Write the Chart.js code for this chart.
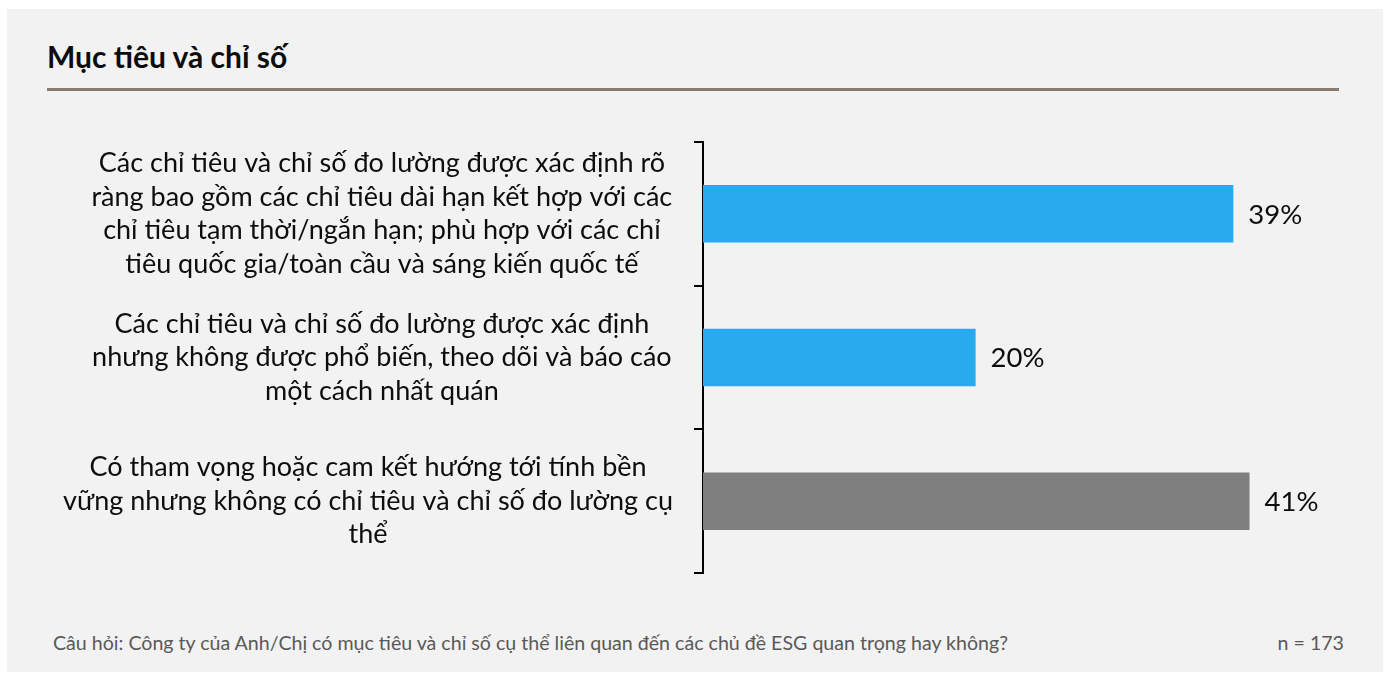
<!DOCTYPE html>
<html><head><meta charset="utf-8">
<script src="https://cdn.jsdelivr.net/npm/chart.js@4.4.1/dist/chart.umd.min.js"></script>
<style>
html,body{margin:0;padding:0;background:#fff;width:1385px;height:673px;overflow:hidden;font-family:Lato,"Noto Sans",sans-serif;}
#panel{position:absolute;left:7px;top:9px;width:1376px;height:663px;background:#f2f2f2;}
#title{position:absolute;left:47px;top:38px;font-weight:bold;font-size:30px;color:#0d0d0d;line-height:36px;white-space:nowrap;}
#rule{position:absolute;left:47px;top:88px;width:1292px;height:3px;background:#877b6f;}
#foot{position:absolute;left:53px;top:630px;font-size:19.6px;color:#595959;line-height:26px;white-space:nowrap;}
#n{position:absolute;right:41px;top:630px;font-size:19.6px;color:#595959;line-height:26px;white-space:nowrap;}
canvas{position:absolute;left:0;top:0;}
</style></head>
<body>
<div id="panel"></div>
<div id="title">Mục tiêu và chỉ số</div>
<div id="rule"></div>
<div id="foot">Câu hỏi: Công ty của Anh/Chị có mục tiêu và chỉ số cụ thể liên quan đến các chủ đề ESG quan trọng hay không?</div>
<div id="n">n = 173</div>
<canvas id="c" width="1385" height="673"></canvas>
<script>
const categories = [
  ["Các chỉ tiêu và chỉ số đo lường được xác định rõ","ràng bao gồm các chỉ tiêu dài hạn kết hợp với các","chỉ tiêu tạm thời/ngắn hạn; phù hợp với các chỉ","tiêu quốc gia/toàn cầu và sáng kiến quốc tế"],
  ["Các chỉ tiêu và chỉ số đo lường được xác định","nhưng không được phổ biến, theo dõi và báo cáo","một cách nhất quán"],
  ["Có tham vọng hoặc cam kết hướng tới tính bền","vững nhưng không có chỉ tiêu và chỉ số đo lường cụ","thể"]
];
const values = [39.3, 20.2, 40.5];
const valueLabels = ["39%", "20%", "41%"];

const BLUE = '#28aaee', GREY = '#7f7f7f';
const barColors = [BLUE, BLUE, GREY];
const LABEL_FONT = 27, VALUE_FONT = 27.5;
const labelShift = [15, 14, 0];

const mctx = document.createElement('canvas').getContext('2d');
mctx.font = LABEL_FONT + 'px Lato';
const spaceW = mctx.measureText(' ').width;
function pad(lines, shift){
  const n = Math.round(Math.abs(shift)*2/spaceW);
  const sp = ' '.repeat(n);
  return lines.map(l => shift < 0 ? l + sp : sp + l);
}

const valueLabelPlugin = {
  id: 'valueLabels',
  afterDatasetsDraw(chart){
    const ctx = chart.ctx;
    const meta = chart.getDatasetMeta(0);
    ctx.save();
    ctx.font = VALUE_FONT + 'px Lato';
    ctx.fillStyle = '#0d0d0d';
    ctx.textAlign = 'left';
    ctx.textBaseline = 'middle';
    meta.data.forEach((bar, i) => {
      ctx.fillText(valueLabels[i], bar.x + 15, bar.y + 1);
    });
    ctx.restore();
  }
};

new Chart(document.getElementById('c'), {
  type: 'bar',
  data: {
    labels: categories.map((c, i) => pad(c, labelShift[i])),
    datasets: [{ data: values, backgroundColor: barColors, barPercentage: 0.4, categoryPercentage: 1.0 }]
  },
  options: {
    indexAxis: 'y',
    responsive: false,
    animation: false,
    devicePixelRatio: 1,
    layout: { padding: { left: 40, top: 142, bottom: 100, right: 7.25 } },
    plugins: { legend: { display: false }, tooltip: { enabled: false } },
    scales: {
      x: { display: false, min: 0, max: 50 },
      y: {
        afterFit(scale){ scale.width = 663; },
        border: { display: true, color: '#000', width: 2 },
        grid: { display: true, drawOnChartArea: false, drawTicks: true, tickLength: 9, color: '#000', lineWidth: 2, offset: true },
        ticks: { crossAlign: 'center', padding: 21, color: '#0d0d0d', font: { family: 'Lato', size: LABEL_FONT, lineHeight: '33.5px' } }
      }
    }
  },
  plugins: [valueLabelPlugin]
});
</script>
</body></html>
